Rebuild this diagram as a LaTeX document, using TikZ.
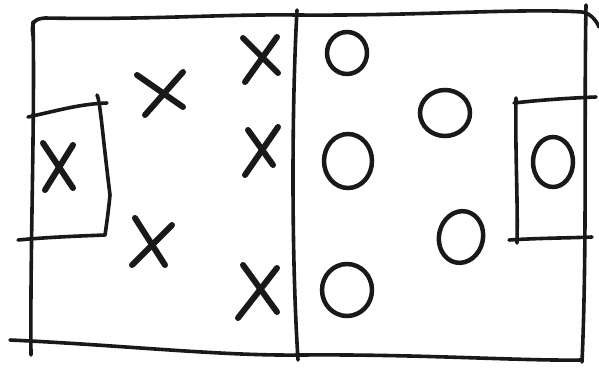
\documentclass[tikz,border=0pt]{standalone}
\begin{document}
\begin{tikzpicture}[x=1pt,y=-1pt,
  pen/.style={line width=3.6pt,line cap=round,line join=round,black!90},
  xmark/.style={line width=6pt,line cap=round,black!90},
  omark/.style={line width=4.5pt,black!90}]
\useasboundingbox (0,0) rectangle (599,367);
% outer field
\draw[pen] (33,36) .. controls (31,22) and (34,19) .. (45,18)
  .. controls (150,20) and (220,14) .. (297,15)
  .. controls (420,16) and (520,8) .. (582,12)
  .. controls (590,13) and (596,20) .. (599,27);
\draw[pen] (33,22) .. controls (35,120) and (30,250) .. (31,355);
\draw[pen] (10,340) .. controls (120,345) and (220,356) .. (300,355)
  .. controls (420,354) and (520,361) .. (582,360);
\draw[pen] (586,5) .. controls (584,120) and (587,250) .. (582,362);
% centre line
\draw[pen] (297,10) .. controls (292,100) and (291,250) .. (298,360);
% left goal box
\draw[pen] (28,117) .. controls (60,110) and (80,104) .. (107,103);
\draw[pen] (97,95) .. controls (100,100) and (102,130) .. (110,195)
  .. controls (108,215) and (106,228) .. (105,235);
\draw[pen] (18,240) .. controls (50,237) and (80,236) .. (105,235);
% right goal box
\draw[pen] (514,103) .. controls (540,100) and (570,98) .. (596,97);
\draw[pen] (516,98) .. controls (515,150) and (518,200) .. (517,243);
\draw[pen] (509,240) .. controls (540,238) and (570,238) .. (592,237);
% crosses
\draw[xmark] (43,143) -- (73,188);
\draw[xmark] (73,145) -- (45,190);
\draw[xmark] (137,75) -- (183,107);
\draw[xmark] (183,72) -- (145,115);
\draw[xmark] (243,38) -- (278,73);
\draw[xmark] (277,37) -- (245,82);
\draw[xmark] (248,130) -- (273,165);
\draw[xmark] (278,127) -- (245,175);
\draw[xmark] (135,218) -- (165,265);
\draw[xmark] (172,225) -- (132,265);
\draw[xmark] (243,265) -- (277,312);
\draw[xmark] (277,268) -- (238,318);
% noughts
\draw[omark] (347,53) ellipse [x radius=20,y radius=21];
\draw[omark] (348,161) ellipse [x radius=24,y radius=27];
\draw[omark] (347,290) ellipse [x radius=25,y radius=26];
\draw[omark] (445,113) ellipse [x radius=25,y radius=23];
\draw[omark,rotate around={-12:(461,237)}] (461,237) ellipse [x radius=22,y radius=26];
\draw[omark] (553,162) ellipse [x radius=20,y radius=25];
\end{tikzpicture}
\end{document}
